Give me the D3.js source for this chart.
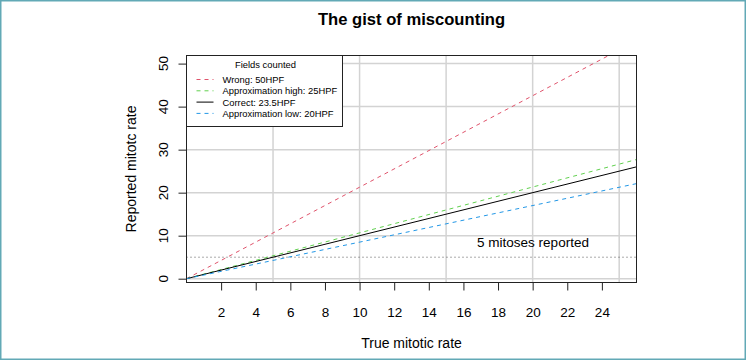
<!DOCTYPE html>
<html><head><meta charset="utf-8">
<script src="https://cdn.jsdelivr.net/npm/d3@7"></script>
<style>body{margin:0;background:#fff}svg{display:block;font-family:"Liberation Sans",Arial,Helvetica,sans-serif}</style>
</head><body>
<script>
// Data
const trueRate = [0, 26];
const seriesNames = ["Wrong: 50HPF", "Approximation high: 25HPF", "Correct: 23.5HPF", "Approximation low: 20HPF"];
const wrongVals = [0, 55.3];
const highVals = [0, 27.7];
const correctVals = [0, 26];
const lowVals = [0, 22.1];
const seriesColors = ["#DF536B", "#61D04F", "#000000", "#2297E6"];
const seriesDash = ["4,4", "4,4", null, "4,4"];
const xTicks = [2,4,6,8,10,12,14,16,18,20,22,24];
const yTicks = [0,10,20,30,40,50];
const xGrid = [5,10,15,20,25];
const yGrid = [0,10,20,30,40,50];
const thresholdVal = 5;
const thresholdLabel = "5 mitoses reported";

const W = 746, H = 360;
const L = 186.5, R = 636.5, T = 55.5, B = 282.5;
const svg = d3.select("body").append("svg").attr("width", W).attr("height", H);
svg.append("rect").attr("x",0.75).attr("y",0.75).attr("width",W-1.5).attr("height",H-1.5)
  .attr("fill","#fff").attr("stroke","#62a9b6").attr("stroke-width",1.5);

const x = d3.scaleLinear().domain([0,26]).range([L,R]);
const y = d3.scaleLinear().domain([-1,52]).range([B+0.5,T-0.5]);

svg.append("defs").append("clipPath").attr("id","clip").append("rect")
  .attr("x",L).attr("y",T).attr("width",R-L).attr("height",B-T);

// grid
svg.append("g").selectAll("line").data(xGrid).join("line")
  .attr("x1",d=>x(d)).attr("x2",d=>x(d)).attr("y1",T).attr("y2",B)
  .attr("stroke","#d3d3d3").attr("stroke-width",1.5);
svg.append("g").selectAll("line").data(yGrid).join("line")
  .attr("x1",L).attr("x2",R).attr("y1",d=>y(d)).attr("y2",d=>y(d))
  .attr("stroke","#d3d3d3").attr("stroke-width",1.5);

// threshold
svg.append("line").attr("x1",L).attr("x2",R).attr("y1",y(thresholdVal)).attr("y2",y(thresholdVal))
  .attr("stroke","#555").attr("stroke-width",1).attr("stroke-dasharray","1,3");
svg.append("text").attr("x",533).attr("y",y(thresholdVal)-10).attr("text-anchor","middle")
  .attr("font-size",13.5).attr("fill","#000").text(thresholdLabel);

// lines
const allVals = [wrongVals, highVals, correctVals, lowVals];
const line = d3.line().x((d,i)=>x(trueRate[i])).y(d=>y(d));
const gl = svg.append("g").attr("clip-path","url(#clip)");
allVals.forEach((v,i)=>{
  gl.append("path").attr("d", line(v)).attr("fill","none")
    .attr("stroke", seriesColors[i]).attr("stroke-width",1)
    .attr("stroke-dasharray", seriesDash[i]);
});

// box
svg.append("rect").attr("x",L).attr("y",T).attr("width",R-L).attr("height",B-T)
  .attr("fill","none").attr("stroke","#222").attr("stroke-width",1);

// x axis
const xa = svg.append("g").attr("transform",`translate(0,${B})`)
  .call(d3.axisBottom(x).tickValues(xTicks).tickSize(8).tickPadding(17).tickFormat(d3.format("d")));
xa.select(".domain").remove();
xa.selectAll("line").attr("stroke","#222");
xa.selectAll("text").attr("font-size",13.5).attr("font-family","Liberation Sans, Arial, sans-serif").attr("fill","#000");

// y axis
const ya = svg.append("g").attr("transform",`translate(${L},0)`)
  .call(d3.axisLeft(y).tickValues(yTicks).tickSize(8).tickFormat(d3.format("d")));
ya.select(".domain").remove();
ya.selectAll("line").attr("stroke","#222");
ya.selectAll("text").remove();
svg.append("g").selectAll("text").data(yTicks).join("text")
  .attr("transform",d=>`translate(${L-19},${y(d)}) rotate(-90)`)
  .attr("text-anchor","middle").attr("font-size",13.5).attr("fill","#000").text(d=>d);

// titles
svg.append("text").attr("x",(L+R)/2).attr("y",25).attr("text-anchor","middle")
  .attr("font-size",16.6).attr("font-weight","bold").text("The gist of miscounting");
svg.append("text").attr("x",(L+R)/2).attr("y",348).attr("text-anchor","middle")
  .attr("font-size",14).text("True mitotic rate");
svg.append("text").attr("transform",`translate(136,${(T+B)/2}) rotate(-90)`).attr("text-anchor","middle")
  .attr("font-size",14).text("Reported mitotc rate");

// legend
const lg = svg.append("g");
lg.append("rect").attr("x",L).attr("y",T).attr("width",156).attr("height",71)
  .attr("fill","#fff").attr("stroke","#222").attr("stroke-width",1);
lg.append("text").attr("x",L+79).attr("y",T+12).attr("text-anchor","middle")
  .attr("font-size",9.4).text("Fields counted");
seriesNames.forEach((n,i)=>{
  const yy = T + 24 + i*11.3;
  lg.append("line").attr("x1",L+10).attr("x2",L+27).attr("y1",yy).attr("y2",yy)
    .attr("stroke",seriesColors[i]).attr("stroke-width",1).attr("stroke-dasharray",seriesDash[i]);
  lg.append("text").attr("x",L+36).attr("y",yy+3.4).attr("font-size",9.4).text(n);
});
</script>
</body></html>
